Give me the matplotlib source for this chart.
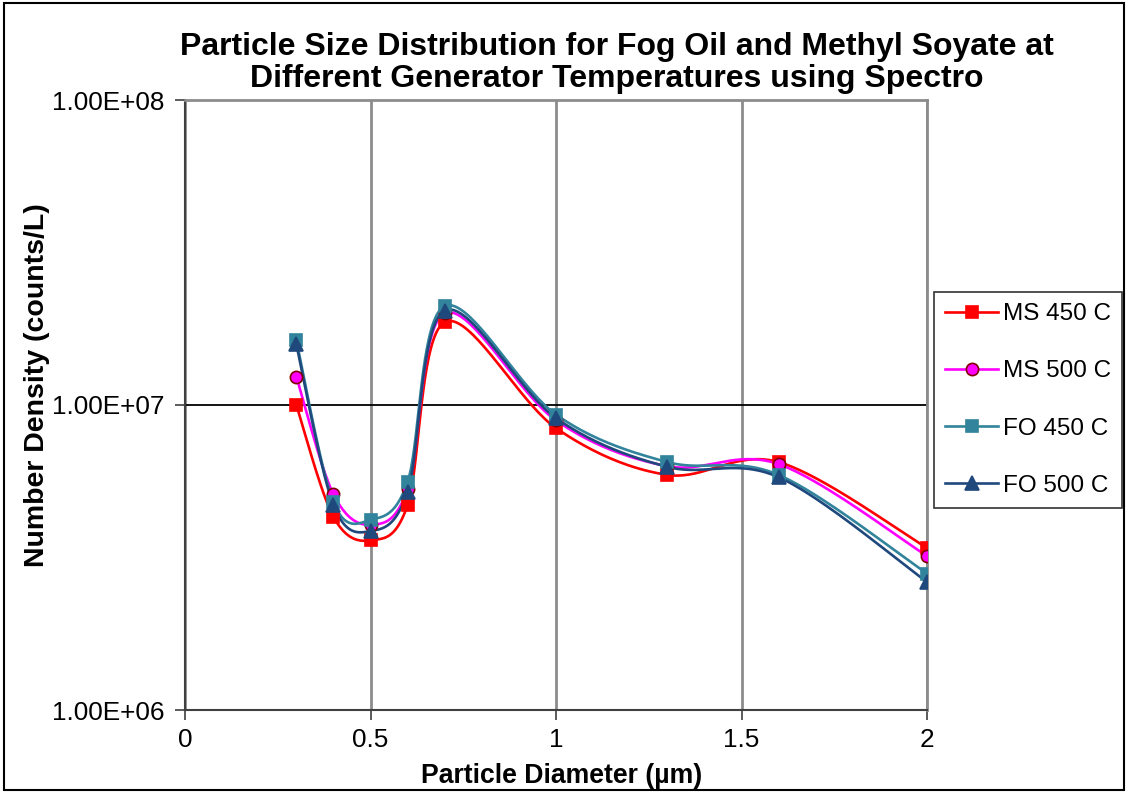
import numpy as np
import matplotlib
matplotlib.use("Agg")
import matplotlib.pyplot as plt
from matplotlib.patches import Rectangle

plt.rcParams['font.family'] = ['Liberation Sans', 'DejaVu Sans']

diameters = [0.3, 0.4, 0.5, 0.6, 0.7, 1.0, 1.3, 1.6, 2.0]
ms_450 = [1.00e7, 4.3e6, 3.6e6, 4.7e6, 1.87e7, 8.4e6, 5.9e6, 6.5e6, 3.4e6]
ms_500 = [1.24e7, 5.1e6, 4.05e6, 5.3e6, 2.0e7, 8.9e6, 6.3e6, 6.4e6, 3.2e6]
fo_450 = [1.63e7, 4.8e6, 4.2e6, 5.6e6, 2.11e7, 9.3e6, 6.5e6, 5.9e6, 2.8e6]
fo_500 = [1.58e7, 4.7e6, 3.86e6, 5.2e6, 2.04e7, 9.06e6, 6.27e6, 5.8e6, 2.63e6]
series_labels = ["MS 450 C", "MS 500 C", "FO 450 C", "FO 500 C"]
x_ticks = [0, 0.5, 1, 1.5, 2]
y_ticks = [1e6, 1e7, 1e8]
y_ticklabels = ["1.00E+06", "1.00E+07", "1.00E+08"]

styles = [
    dict(color="#FF0000", marker="s", mfc="#FF0000", mec="#FF0000", ms=8.8),
    dict(color="#FF00FF", marker="o", mfc="#FF00FF", mec="#800000", ms=8.8),
    dict(color="#31849B", marker="s", mfc="#31849B", mec="#31849B", ms=8.8),
    dict(color="#1F497D", marker="^", mfc="#1F497D", mec="#1F497D", ms=9.8),
]

fig = plt.figure(figsize=(11.28, 7.92), dpi=100)
ax = fig.add_axes([185/1128, 1-710/792, (927-185)/1128, 610/792])
ax.set_yscale("log")
ax.set_xlim(0, 2)
ax.set_ylim(1e6, 1e8)

# outer chart border
fig.patches.append(Rectangle((4/1128, 2/792), 1120/1128, 787/792, transform=fig.transFigure,
                             fill=False, edgecolor="black", linewidth=1.5, zorder=0))

fig.canvas.draw()


def smooth(xs, ys, n=40):
    pts = ax.transData.transform(np.column_stack([xs, ys]))
    P = np.vstack([pts[0], pts, pts[-1]])
    out = []
    t = np.linspace(0, 1, n)[:, None]
    for i in range(1, len(P) - 2):
        p0, p1, p2, p3 = P[i-1], P[i], P[i+1], P[i+2]
        c1 = p1 + (p2 - p0) / 6.0
        c2 = p2 - (p3 - p1) / 6.0
        seg = ((1-t)**3)*p1 + 3*((1-t)**2)*t*c1 + 3*(1-t)*t**2*c2 + t**3*p2
        out.append(seg if i == 1 else seg[1:])
    curve = np.vstack(out)
    data = ax.transData.inverted().transform(curve)
    return data[:, 0], data[:, 1]


for ys, lab, st in zip([ms_450, ms_500, fo_450, fo_500], series_labels, styles):
    sx, sy = smooth(diameters, ys)
    ax.plot(sx, sy, color=st["color"], lw=1.9, zorder=3)
    ax.plot(diameters, ys, linestyle="none", marker=st["marker"], mfc=st["mfc"],
            mec=st["mec"], ms=st["ms"], mew=1.2, zorder=4)
    ax.plot([], [], color=st["color"], lw=1.9, marker=st["marker"], mfc=st["mfc"],
            mec=st["mec"], ms=st["ms"], mew=1.2, label=lab)

ax.set_xticks(x_ticks)
ax.set_xticklabels(["0", "0.5", "1", "1.5", "2"])
ax.set_yticks(y_ticks)
ax.set_yticklabels(y_ticklabels)
ax.yaxis.set_minor_locator(matplotlib.ticker.NullLocator())
ax.tick_params(axis="both", which="major", labelsize=18.8, direction="out", length=7,
               width=1.2, color="#404040", pad=6)
ax.tick_params(axis="y", pad=8)

ax.grid(axis="x", color="#8C8C8C", lw=2)
ax.axhline(1e7, color="black", lw=1.3, zorder=1)
ax.set_axisbelow(True)
for side in ["left", "bottom"]:
    ax.spines[side].set_color("#404040")
    ax.spines[side].set_linewidth(1.5)
for side in ["top", "right"]:
    ax.spines[side].set_color("#8C8C8C")
    ax.spines[side].set_linewidth(2)

fig.text(562/1128, 1-776/792, "Particle Diameter (µm)", ha="center", va="center",
         fontsize=19.2, fontweight="bold")
fig.text(37/1128, 1-385/792, "Number Density (counts/L)", ha="center", va="center",
         rotation=90, fontsize=20.5, fontweight="bold")
fig.text(617/1128, 1-63/792, "Particle Size Distribution for Fog Oil and Methyl Soyate at\nDifferent Generator Temperatures using Spectro",
         ha="center", va="center", fontsize=23, fontweight="bold", linespacing=1.08)

leg = ax.legend(loc="center left", bbox_to_anchor=(934/1128, 1-400/792), bbox_transform=fig.transFigure,
                fontsize=17.5, frameon=True, fancybox=False, edgecolor="black",
                handlelength=2.2, labelspacing=1.45, borderpad=0.45, handletextpad=0.2,
                borderaxespad=0)
leg.get_frame().set_linewidth(1.2)

fig.savefig("out.png", dpi=100)
